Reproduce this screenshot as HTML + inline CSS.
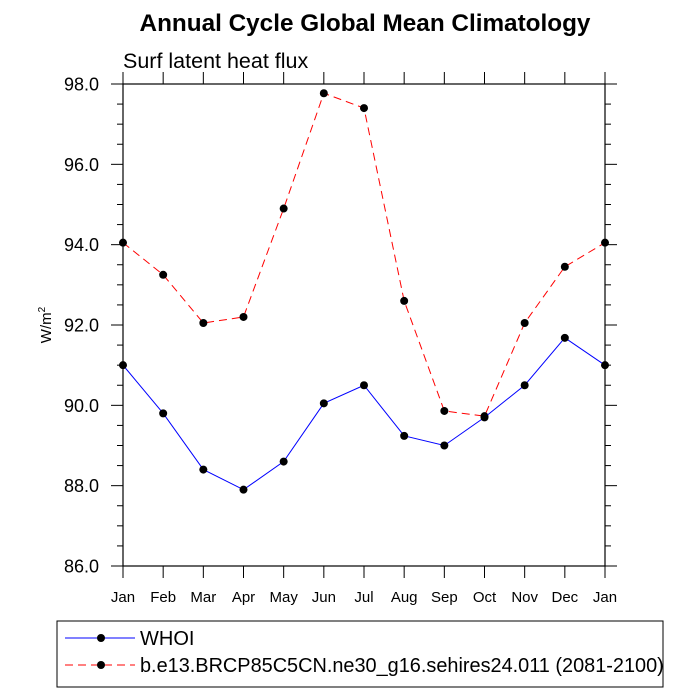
<!DOCTYPE html>
<html><head><meta charset="utf-8"><style>
body{margin:0;background:#fff;}
svg{display:block;font-family:"Liberation Sans",sans-serif;}
</style></head><body>
<svg id="chart" width="700" height="700">
<text x="365" y="31" text-anchor="middle" font-size="24.3" font-weight="bold">Annual Cycle Global Mean Climatology</text>
<text x="123" y="68" font-size="21.5">Surf latent heat flux</text>
<text transform="translate(51,325) rotate(-90)" text-anchor="middle" font-size="15">W/m<tspan dy="-6" font-size="10">2</tspan></text>
<g id="axes"></g>
<g id="series"></g>
<rect x="57" y="621" width="606" height="66" fill="none" stroke="#000" stroke-width="1"/>
<g>
<line x1="65" y1="638" x2="135" y2="638" stroke="#00f" stroke-width="1"/>
<circle cx="101" cy="638" r="4" fill="#000"/>
<text x="140" y="645" font-size="20">WHOI</text></g>
<g>
<line x1="65" y1="665" x2="135" y2="665" stroke="#f00" stroke-width="1" stroke-dasharray="8,5"/>
<circle cx="101" cy="665" r="4" fill="#000"/>
<text x="140" y="672" font-size="19.9">b.e13.BRCP85C5CN.ne30_g16.sehires24.011 (2081-2100)</text></g>
</svg>
<script>
const months=["Jan","Feb","Mar","Apr","May","Jun","Jul","Aug","Sep","Oct","Nov","Dec","Jan"];
const whoi=[91.0,89.8,88.4,87.9,88.6,90.05,90.5,89.24,89.0,89.7,90.5,91.68,91.0];
const model=[94.05,93.25,92.05,92.2,94.9,97.77,97.4,92.6,89.86,89.73,92.05,93.45,94.05];
const yTicks=[86,88,90,92,94,96,98];
const L=123,R=605,T=84,B=566,yMin=86,yMax=98;
const xs=i=>L+(R-L)*i/(months.length-1);
const ys=v=>B-(v-yMin)/(yMax-yMin)*(B-T);
const NS="http://www.w3.org/2000/svg";
function mk(tag,attrs,parent){const e=document.createElementNS(NS,tag);for(const k in attrs)e.setAttribute(k,attrs[k]);parent.appendChild(e);return e;}
const ax=document.getElementById('axes');
const frame=mk('rect',{x:L,y:T,width:R-L,height:B-T,fill:'none',stroke:'#000','stroke-width':1.2},ax);


for(let v=yMin;v<=yMax+1e-6;v+=0.5){
  const y=ys(v);const major=Math.abs(v-Math.round(v))<1e-6&&Math.round(v)%2===0;const len=major?12:6;
  mk('line',{x1:L,y1:y,x2:L-len,y2:y,stroke:'#000'},ax);
  mk('line',{x1:R,y1:y,x2:R+len,y2:y,stroke:'#000'},ax);
}
yTicks.forEach(v=>{const t=mk('text',{x:L-24,y:ys(v)+6.5,'text-anchor':'end','font-size':18},ax);t.textContent=v.toFixed(1);

});
months.forEach((m,i)=>{const x=xs(i);
  mk('line',{x1:x,y1:B,x2:x,y2:B+12,stroke:'#000'},ax);
  mk('line',{x1:x,y1:T,x2:x,y2:T-12,stroke:'#000'},ax);
  const t=mk('text',{x:x,y:B+36,'text-anchor':'middle','font-size':15},ax);t.textContent=m;
  
  });
const sg=document.getElementById('series');
function draw(data,color,dash,name){
  const g=mk('g',{},sg);
  
  
  const pts=data.map((v,i)=>xs(i)+','+ys(v)).join(' ');
  const a={points:pts,fill:'none',stroke:color,'stroke-width':1};if(dash)a['stroke-dasharray']=dash;
  mk('polyline',a,g);
  data.forEach((v,i)=>{const c=mk('circle',{cx:xs(i),cy:ys(v),r:4,fill:'#000'},g);
    
    });
}
draw(model,'#f00','8,5','series-model');
draw(whoi,'#00f',null,'series-whoi');
</script>
</body></html>
